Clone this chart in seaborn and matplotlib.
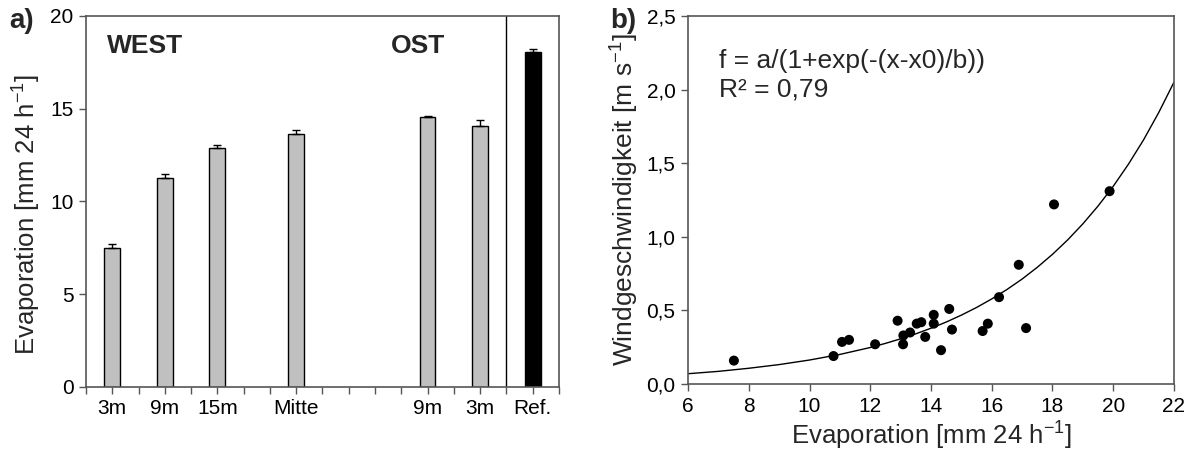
import numpy as np
import pandas as pd
import seaborn as sns
import matplotlib.pyplot as plt
from matplotlib.ticker import FuncFormatter
plt.switch_backend('agg')

# panel a: evaporation per station
stations = ['3m', '9m', '15m', 'Mitte', '9m', '3m', 'Ref.']
positions = [1, 3, 5, 8, 13, 15, 17]
evap = [7.48, 11.26, 12.88, 13.64, 14.56, 14.07, 18.05]
evap_err = [0.21, 0.20, 0.15, 0.22, 0.05, 0.33, 0.18]
group = ['Feld', 'Feld', 'Feld', 'Feld', 'Feld', 'Feld', 'Ref']

# panel b: wind speed vs evaporation
evap_pts = [7.51, 10.79, 11.07, 11.30, 12.16, 12.90, 13.08, 13.09, 13.31, 13.53, 13.68, 13.81,
            14.09, 14.09, 14.33, 14.60, 14.69, 15.70, 15.87, 16.24, 16.89, 17.13, 18.05, 19.88]
wind_pts = [0.159, 0.19, 0.286, 0.30, 0.27, 0.43, 0.27, 0.33, 0.35, 0.41, 0.42, 0.32,
            0.47, 0.41, 0.23, 0.51, 0.37, 0.36, 0.41, 0.59, 0.81, 0.38, 1.22, 1.31]
# fitted curve
curve_x = [6, 7, 8, 9, 10, 11, 12, 12.5, 13, 13.5, 14, 14.5, 15, 15.5, 16, 16.5, 17, 17.5,
           18, 18.5, 19, 19.5, 20, 20.5, 21, 21.5, 22]
curve_y = [0.070, 0.086, 0.107, 0.132, 0.163, 0.201, 0.248, 0.276, 0.307, 0.341, 0.379,
           0.421, 0.468, 0.520, 0.578, 0.642, 0.713, 0.793, 0.881, 0.979, 1.088, 1.209,
           1.343, 1.493, 1.659, 1.845, 2.05]

sns.set_style('ticks')
plt.rcParams['font.family'] = ['Liberation Sans', 'DejaVu Sans']
plt.rcParams['mathtext.fontset'] = 'custom'
plt.rcParams['mathtext.rm'] = 'Liberation Sans'
plt.rcParams['mathtext.it'] = 'Liberation Sans:italic'

spine_col = '#555555'
tick_fs = 15
label_fs = 18.5

fig = plt.figure(figsize=(11.91, 4.57), dpi=100)
ax1 = fig.add_axes([0.0722, 0.1532, 0.3971, 0.8118])
ax2 = fig.add_axes([0.5777, 0.1597, 0.4080, 0.8053])

df_a = pd.DataFrame({'pos': positions, 'evap': evap, 'group': group})
sns.barplot(data=df_a, x='pos', y='evap', hue='group', palette={'Feld': '#c0c0c0', 'Ref': 'black'},
            native_scale=True, dodge=False, width=0.3, edgecolor='black', linewidth=1,
            legend=False, ax=ax1)
ax1.errorbar(positions, evap, yerr=[np.zeros(len(evap)), evap_err], fmt='none',
             ecolor='black', elinewidth=1, capsize=3.2, capthick=1)
ax1.axvline(16, color='black', lw=1)
ax1.set_xlim(0, 18)
ax1.set_ylim(0, 20)
ax1.set_yticks([0, 5, 10, 15, 20])
lab = {p: s for p, s in zip(positions, stations)}
ax1.set_xticks(range(0, 19))
ax1.set_xticklabels([lab.get(i, '') for i in range(0, 19)])
ax1.set_xlabel('')
ax1.set_ylabel('Evaporation [mm 24 h$^{-1}$]', fontsize=label_fs)
ax1.yaxis.set_label_coords(-0.09, 0.464)
ax1.text(0.8, 18.4, 'WEST', fontsize=19, fontweight='bold', va='center', ha='left')
ax1.text(11.6, 18.4, 'OST', fontsize=19, fontweight='bold', va='center', ha='left')

df_b = pd.DataFrame({'evap': evap_pts, 'wind': wind_pts})
df_c = pd.DataFrame({'x': curve_x, 'y': curve_y})
sns.lineplot(data=df_c, x='x', y='y', color='black', lw=1, sort=False, ax=ax2)
sns.scatterplot(data=df_b, x='evap', y='wind', color='black', s=52, edgecolor='none', ax=ax2, zorder=3)
ax2.set_xlim(6, 22)
ax2.set_ylim(0, 2.5)
ax2.set_xticks(range(6, 23, 2))
ax2.set_yticks([0, 0.5, 1.0, 1.5, 2.0, 2.5])
ax2.yaxis.set_major_formatter(FuncFormatter(lambda v, p: ('%.1f' % v).replace('.', ',')))
ax2.set_xlabel('Evaporation [mm 24 h$^{-1}$]', fontsize=label_fs, labelpad=3)
ax2.set_ylabel('Windgeschwindigkeit [m s$^{-1}$]', fontsize=19, labelpad=4)
ax2.text(0.064, 0.878, 'f = a/(1+exp(-(x-x0)/b))', transform=ax2.transAxes, fontsize=19, va='center')
ax2.text(0.064, 0.80, 'R² = 0,79', transform=ax2.transAxes, fontsize=19, va='center')

for ax in (ax1, ax2):
    for sp in ax.spines.values():
        sp.set_visible(True)
        sp.set_color(spine_col)
        sp.set_linewidth(1.2)
    ax.tick_params(direction='out', length=5, width=1, colors=spine_col, labelcolor='black',
                   labelsize=tick_fs, pad=4)

fig.text(0.008, 0.955, 'a)', fontsize=20, fontweight='bold', va='center')
fig.text(0.512, 0.955, 'b)', fontsize=20, fontweight='bold', va='center')

plt.savefig('out.png', dpi=100)
plt.close()
